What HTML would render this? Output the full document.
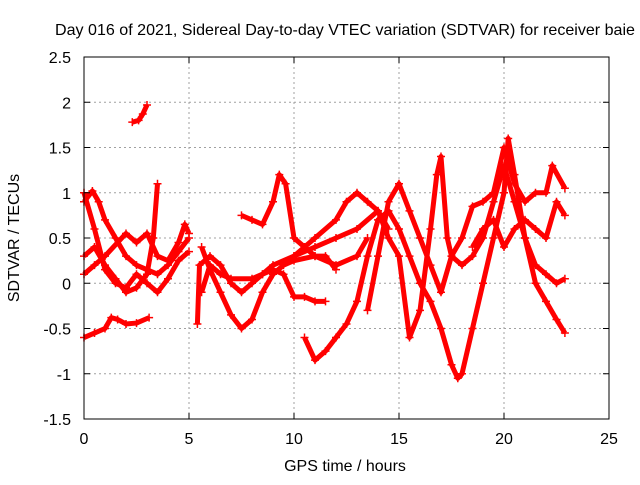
<!DOCTYPE html>
<html><head><meta charset="utf-8"><style>
body{margin:0;background:#fff}
svg text{font-family:"Liberation Sans",sans-serif;font-size:16px;fill:#000}
</style></head><body>
<svg id="chart" width="640" height="480" xmlns="http://www.w3.org/2000/svg">
<text x="55" y="35" textLength="580" lengthAdjust="spacingAndGlyphs">Day 016 of 2021, Sidereal Day-to-day VTEC variation (SDTVAR) for receiver baie</text>
<text transform="translate(19,238) rotate(-90)" text-anchor="middle">SDTVAR / TECUs</text>
<text x="345" y="471" text-anchor="middle">GPS time / hours</text>
<g id="grid"></g><g id="series"></g><g id="axes"></g>
</svg>
<script>
const xTicks=[0,5,10,15,20,25];
const yTicks=[-1.5,-1,-0.5,0,0.5,1,1.5,2,2.5];
const trackA=[[0,-0.6],[0.5,-0.55],[1,-0.5],[1.3,-0.38],[1.6,-0.4],[2,-0.45],[2.5,-0.44],[3.1,-0.38]];
const trackB=[[2.3,1.78],[2.6,1.8],[2.8,1.87],[3,1.97]];
const trackC=[[0,0.9],[0.4,1.02],[0.7,0.9],[1,0.7],[1.5,0.5],[2,0.3],[2.5,0.2],[3,0.15],[3.5,0.1],[4,0.2],[4.5,0.35],[5,0.5]];
const trackD=[[0,0.3],[0.5,0.4],[1,0.2],[1.5,0.05],[2,-0.1],[2.5,-0.05],[3,0.1],[3.3,0.5],[3.5,1.1]];
const trackE=[[0,0.1],[0.5,0.2],[1,0.3],[2,0.55],[2.5,0.45],[3,0.55],[3.5,0.3],[4,0.25],[4.5,0.45],[4.8,0.65],[5,0.55]];
const trackF=[[0,1.0],[0.5,0.6],[1,0.15],[1.5,0],[2,-0.05],[2.5,0.1],[3,0],[3.5,-0.1],[4,0.05],[4.5,0.25],[5,0.35]];
const trackG=[[5.4,-0.45],[5.5,0.2],[6,0.3],[6.5,0.2],[7,0],[7.5,-0.1],[8,0],[8.5,0.1],[9,0.2],[10,0.3],[11,0.4],[12,0.5],[13,0.6],[14,0.8],[14.5,0.6]];
const trackH=[[5.6,0.4],[6,0.15],[6.5,-0.1],[7,-0.35],[7.5,-0.5],[8,-0.4],[8.5,-0.1],[9,0.1],[9.5,0.2],[10,0.25],[11,0.3],[12,0.2],[13,0.3],[13.5,0.5]];
const trackI=[[5.6,-0.1],[6,0.2],[6.5,0.1],[7,0.05],[8,0.05],[8.5,0.1],[9,0.15],[9.5,0.1],[10,-0.15],[10.5,-0.15],[11,-0.2],[11.5,-0.2]];
const trackJ=[[7.5,0.75],[8,0.7],[8.5,0.65],[9,0.9],[9.3,1.2],[9.6,1.1],[10,0.5],[10.5,0.4],[11,0.3],[11.5,0.3],[12,0.15]];
const trackK=[[10.5,-0.6],[11,-0.85],[11.5,-0.75],[12,-0.6],[12.5,-0.45],[13,-0.2],[13.5,0.3],[14,0.7],[14.5,0.8],[15,0.6],[15.5,0.3],[16,0],[16.5,-0.2],[17,-0.5],[17.5,-0.9],[17.8,-1.05],[18,-1.0],[18.5,-0.5],[19,0],[19.5,0.5],[20,1.0],[20.2,1.6],[20.5,1.2],[21,0.5],[21.5,0.2],[22,0.1],[22.5,0],[22.9,0.05]];
const trackL=[[10,0.3],[11,0.5],[12,0.7],[12.5,0.9],[13,1.0],[13.5,0.9],[14,0.8],[14.5,0.5],[15,0.3],[15.5,-0.6],[16,-0.3],[16.5,0.6],[16.8,1.2],[17,1.4],[17.3,0.5],[17.5,0.3],[18,0.2],[18.5,0.3],[19,0.5],[19.5,0.9],[20,1.3],[20.5,0.9],[21,0.5],[21.5,0],[22,-0.2],[22.5,-0.4],[22.9,-0.55]];
const trackM=[[13.5,-0.3],[14,0.3],[14.5,0.9],[15,1.1],[15.5,0.8],[16,0.5],[16.5,0.2],[17,-0.1],[17.5,0.3],[18,0.5],[18.5,0.85],[19,0.9],[19.5,1.0],[20,1.5],[20.5,1.1],[21,0.9],[21.5,1.0],[22,1.0],[22.3,1.3],[22.9,1.05]];
const trackN=[[18.5,0.4],[19,0.6],[19.5,0.7],[20,0.4],[20.5,0.6],[21,0.7],[21.5,0.6],[22,0.5],[22.5,0.9],[22.9,0.75]];
const tracks=[trackA,trackB,trackC,trackD,trackE,trackF,trackG,trackH,trackI,trackJ,trackK,trackL,trackM,trackN];
const L=84,R=609,T=57,B=419;
const sx=v=>L+(v-0)/25*(R-L);
const sy=v=>B-(v+1.5)/4*(B-T);
const NS="http://www.w3.org/2000/svg";
function mk(tag,attrs,parent){const e=document.createElementNS(NS,tag);for(const k in attrs)e.setAttribute(k,attrs[k]);parent.appendChild(e);return e;}
const grid=document.getElementById('grid'),axes=document.getElementById('axes'),ser=document.getElementById('series');
xTicks.forEach(t=>{
 const x=sx(t);
 if(t>0&&t<25){const g=mk('line',{x1:x,x2:x,y1:T,y2:B,stroke:'#a0a0a0','stroke-dasharray':'2,3'},grid);}
 mk('line',{x1:x,x2:x,y1:B,y2:B-6,stroke:'#000'},axes);mk('line',{x1:x,x2:x,y1:T,y2:T+6,stroke:'#000'},axes);
 const tx=mk('text',{x:x,y:B+25,'text-anchor':'middle'},axes);tx.textContent=t;
 
});
yTicks.forEach(t=>{
 const y=sy(t);
 if(t>-1.5&&t<2.5){const g=mk('line',{x1:L,x2:R,y1:y,y2:y,stroke:'#a0a0a0','stroke-dasharray':'2,3'},grid);}
 mk('line',{x1:L,x2:L+6,y1:y,y2:y,stroke:'#000'},axes);mk('line',{x1:R,x2:R-6,y1:y,y2:y,stroke:'#000'},axes);
 const tx=mk('text',{x:L-13,y:y+6,'text-anchor':'end'},axes);tx.textContent=t;
 
});
const frame=mk('rect',{x:L,y:T,width:R-L,height:B-T,fill:'none',stroke:'#000'},axes);

tracks.forEach(tr=>{
 const p=mk('polyline',{points:tr.map(d=>sx(d[0])+','+sy(d[1])).join(' '),fill:'none',stroke:'#f00','stroke-width':5,'stroke-linejoin':'round'},ser);
 
 
 tr.forEach(d=>{
  const x=sx(d[0]),y=sy(d[1]);
  const m=mk('path',{d:`M${x-4},${y}H${x+4}M${x},${y-4}V${y+4}`,stroke:'#f00','stroke-width':1.5},ser);
  
  
 });
});
</script>
</body></html>
